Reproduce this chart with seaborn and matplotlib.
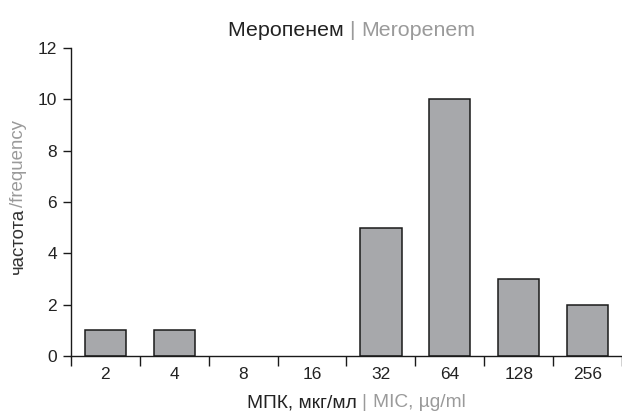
import matplotlib
matplotlib.use("Agg")
import matplotlib.pyplot as plt
import seaborn as sns
import pandas as pd

# MIC values (categories) and counts
mic_labels = ["2", "4", "8", "16", "32", "64", "128", "256"]
counts = [1, 1, 0, 0, 5, 10, 3, 2]

DARK = "#222222"
GRAY = "#9a9a9a"
BAR = "#a7a8ab"

sns.set_style("white")
plt.rcParams["font.family"] = ["Liberation Sans", "DejaVu Sans"]


def draw_pieces(fig, x, y, pieces, size, rotation=0):
    # place differently coloured text pieces one after another, centred at (x, y)
    renderer = fig.canvas.get_renderer()
    texts = []
    for s, c in pieces:
        t = fig.text(0, 0, s, color=c, fontsize=size, rotation=rotation,
                     ha="left" if rotation == 0 else "center",
                     va="center" if rotation == 0 else "bottom")
        texts.append(t)
    inv = fig.transFigure.inverted()
    sizes = []
    for t in texts:
        bb = t.get_window_extent(renderer).transformed(inv)
        sizes.append(bb.width if rotation == 0 else bb.height)
    total = sum(sizes)
    pos = (x if rotation == 0 else y) - total / 2
    for t, w in zip(texts, sizes):
        if rotation == 0:
            t.set_position((pos, y))
        else:
            t.set_position((x, pos))
        pos += w


def plot_meropenem():
    df = pd.DataFrame({"mic": mic_labels, "count": counts})

    fig = plt.figure(figsize=(6.22, 4.12), dpi=100)
    ax = fig.add_axes([0.114, 0.136, 0.886, 0.7476])

    sns.barplot(data=df, x="mic", y="count", order=mic_labels, color=BAR,
                width=0.6, edgecolor="#1a1a1a", linewidth=1.1, saturation=1, ax=ax)
    # empty categories: no outline
    for p in ax.patches:
        if p.get_height() == 0:
            p.set_linewidth(0)

    ax.set_xlim(-0.5, 7.44)
    ax.set_ylim(0, 12)
    ax.set_yticks(range(0, 13, 2))
    sns.despine(ax=ax)
    for sp in ["left", "bottom"]:
        ax.spines[sp].set_color("#1a1a1a")
        ax.spines[sp].set_linewidth(1.0)

    # category separators as ticks, labels without ticks
    ax.set_xticks([i - 0.5 for i in range(9)], minor=True)
    ax.tick_params(axis="x", which="both", bottom=True)
    ax.tick_params(axis="x", which="minor", length=7, width=1.0, direction="out", color="#1a1a1a")
    ax.tick_params(axis="x", which="major", length=0, pad=8, labelsize=12.5, labelcolor=DARK)
    ax.tick_params(axis="y", left=True, length=6, width=1.0, direction="out", color="#1a1a1a",
                   labelsize=12.5, labelcolor=DARK, pad=4)
    ax.set_xlabel("")
    ax.set_ylabel("")

    draw_pieces(fig, 0.565, 0.927,
                [("Меропенем ", DARK), ("| ", GRAY), ("Meropenem", GRAY)], 15.4)
    draw_pieces(fig, 0.573, 0.022,
                [("МПК, мкг/мл ", DARK), ("| ", GRAY), ("MIC, µg/ml", GRAY)], 13.8)
    draw_pieces(fig, 0.03, 0.522,
                [("частота", "#333333"), ("/frequency", GRAY)], 13.4, rotation=90)

    fig.savefig("out.png", dpi=100)


if __name__ == "__main__":
    plot_meropenem()
